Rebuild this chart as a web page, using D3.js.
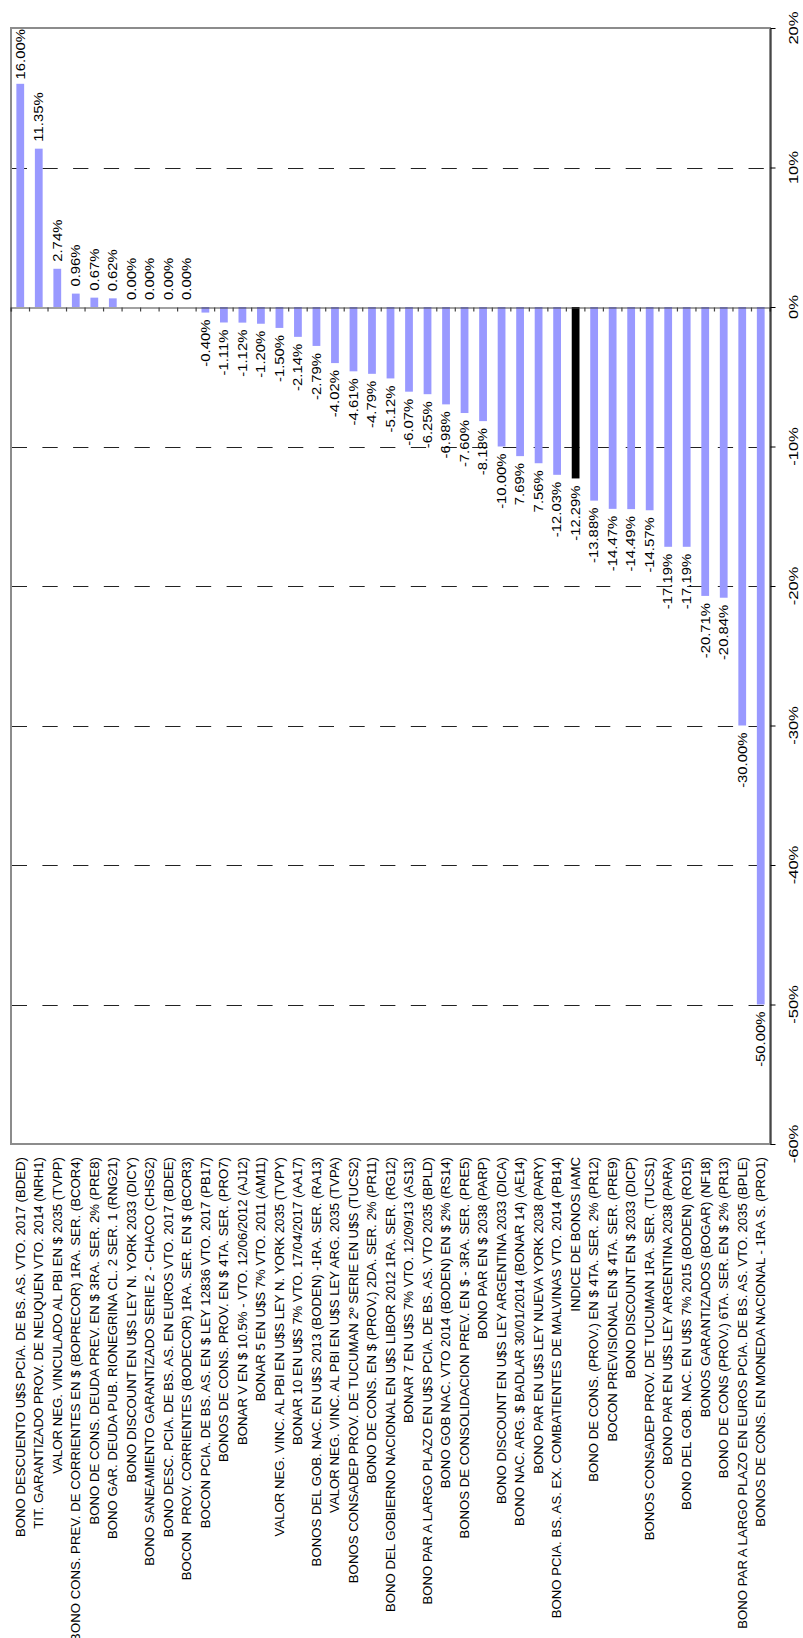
<!DOCTYPE html>
<html lang="es">
	<head>
		<meta charset="utf-8">
		<title>rendimiento bonos</title>
		<style>
			body {
				margin: 0;
				background-color: white;
			}
			svg text {
				font-family: "Liberation Sans", Arial, Helvetica, sans-serif;
				fill: black;
				white-space: pre;
			}
			.grid line {
				stroke: #222;
				stroke-width: 1px;
				stroke-dasharray: 15.3, 15.4;
			}
		</style>
	</head>
	<body>

		<script type="text/javascript" src="https://cdnjs.cloudflare.com/ajax/libs/d3/7.8.5/d3.min.js"></script>
		<script type="text/javascript">

			var categories = [
				"BONO DESCUENTO U$S PCIA. DE BS. AS. VTO. 2017 (BDED)",
				"TIT. GARANTIZADO PROV. DE NEUQUEN VTO. 2014 (NRH1)",
				"VALOR NEG. VINCULADO AL PBI EN $ 2035 (TVPP)",
				"BONO CONS. PREV. DE CORRIENTES EN $ (BOPRECOR) 1RA. SER. (BCOR4)",
				"BONO DE CONS. DEUDA PREV. EN $ 3RA. SER. 2% (PRE8)",
				"BONO GAR. DEUDA PUB. RIONEGRINA CL. 2 SER. 1 (RNG21)",
				"BONO DISCOUNT EN U$S LEY N. YORK 2033 (DICY)",
				"BONO SANEAMIENTO GARANTIZADO SERIE 2 - CHACO (CHSG2)",
				"BONO DESC. PCIA. DE BS. AS. EN EUROS VTO. 2017 (BDEE)",
				"BOCON  PROV. CORRIENTES (BODECOR) 1RA. SER. EN $ (BCOR3)",
				"BOCON PCIA. DE BS. AS. EN $ LEY 12836 VTO. 2017 (PB17)",
				"BONOS DE CONS. PROV. EN $ 4TA. SER. (PRO7)",
				"BONAR V EN $ 10.5% - VTO. 12/06/2012 (AJ12)",
				"BONAR 5 EN U$S 7% VTO. 2011 (AM11)",
				"VALOR NEG. VINC. AL PBI EN U$S LEY N. YORK 2035 (TVPY)",
				"BONAR 10 EN U$S 7% VTO. 17/04/2017 (AA17)",
				"BONOS DEL GOB. NAC. EN U$S 2013 (BODEN) -1RA. SER. (RA13)",
				"VALOR NEG. VINC. AL PBI EN U$S LEY ARG. 2035 (TVPA)",
				"BONOS CONSADEP PROV. DE TUCUMAN 2º SERIE EN U$S (TUCS2)",
				"BONO DE CONS. EN $ (PROV.) 2DA. SER. 2% (PR11)",
				"BONO DEL GOBIERNO NACIONAL EN U$S LIBOR 2012 1RA. SER. (RG12)",
				"BONAR 7 EN U$S 7% VTO. 12/09/13 (AS13)",
				"BONO PAR A LARGO PLAZO EN U$S PCIA. DE BS. AS. VTO 2035 (BPLD)",
				"BONO GOB NAC. VTO 2014 (BODEN) EN $ 2% (RS14)",
				"BONOS DE CONSOLIDACION PREV. EN $ - 3RA. SER. (PRE5)",
				"BONO PAR EN $ 2038 (PARP)",
				"BONO DISCOUNT EN U$S LEY ARGENTINA 2033 (DICA)",
				"BONO NAC. ARG. $ BADLAR 30/01/2014 (BONAR 14) (AE14)",
				"BONO PAR EN U$S LEY NUEVA YORK 2038 (PARY)",
				"BONO PCIA. BS. AS. EX. COMBATIENTES DE MALVINAS VTO. 2014 (PB14)",
				"INDICE DE BONOS IAMC",
				"BONO DE CONS. (PROV.) EN $ 4TA. SER. 2% (PR12)",
				"BOCON PREVISIONAL EN $ 4TA. SER. (PRE9)",
				"BONO DISCOUNT EN $ 2033 (DICP)",
				"BONOS CONSADEP PROV. DE TUCUMAN 1RA. SER. (TUCS1)",
				"BONO PAR EN U$S LEY ARGENTINA 2038 (PARA)",
				"BONO DEL GOB. NAC. EN U$S 7% 2015 (BODEN) (RO15)",
				"BONOS GARANTIZADOS (BOGAR) (NF18)",
				"BONO DE CONS (PROV.) 6TA. SER. EN $ 2% (PR13)",
				"BONO PAR A LARGO PLAZO EN EUROS PCIA. DE BS. AS. VTO. 2035 (BPLE)",
				"BONOS DE CONS. EN MONEDA NACIONAL - 1RA S. (PRO1)"
			];

			var values = [16.00, 11.35, 2.74, 0.96, 0.67, 0.62, 0, 0, 0, 0,
				-0.40, -1.11, -1.12, -1.20, -1.50, -2.14, -2.79, -4.02, -4.61, -4.79,
				-5.12, -6.07, -6.25, -6.98, -7.60, -8.18, -10.00, -10.69, -11.20, -12.03,
				-12.29, -13.88, -14.47, -14.49, -14.57, -17.19, -17.19, -20.71, -20.84, -30.00,
				-50.00];

			// labels as printed on the chart (two of them do not match their bars)
			var valueLabels = ["16.00%", "11.35%", "2.74%", "0.96%", "0.67%", "0.62%", "0.00%", "0.00%", "0.00%", "0.00%",
				"-0.40%", "-1.11%", "-1.12%", "-1.20%", "-1.50%", "-2.14%", "-2.79%", "-4.02%", "-4.61%", "-4.79%",
				"-5.12%", "-6.07%", "-6.25%", "-6.98%", "-7.60%", "-8.18%", "-10.00%", "7.69%", "7.56%", "-12.03%",
				"-12.29%", "-13.88%", "-14.47%", "-14.49%", "-14.57%", "-17.19%", "-17.19%", "-20.71%", "-20.84%", "-30.00%",
				"-50.00%"];

			var highlight = "INDICE DE BONOS IAMC";

			var yTicks = [20, 10, 0, -10, -20, -30, -40, -50, -60];
			var gridTicks = [10, -10, -20, -30, -40, -50];

			var fullwidth = 803;
			var fullheight = 1638;
			var plot = { left: 11, right: 770, top: 28, bottom: 1144 };
			var stretch = 1.24;
			var catStretch = 1.1;

			var data = categories.map(function(c, i) {
				return { name: c, value: values[i], label: valueLabels[i] };
			});

			var xScale = d3.scaleBand()
				.domain(categories)
				.range([plot.left, plot.right])
				.paddingInner(0.58)
				.paddingOuter(0.29);

			var yScale = d3.scaleLinear()
				.domain([20, -60])
				.range([plot.top, plot.bottom]);

			var svg = d3.select("body")
				.append("svg")
				.attr("width", fullwidth)
				.attr("height", fullheight);

			svg.append("rect")
				.attr("width", fullwidth)
				.attr("height", fullheight)
				.attr("fill", "white");

			// dashed grid
			svg.append("g")
				.attr("class", "grid")
				.selectAll("line")
				.data(gridTicks)
				.enter()
				.append("line")
				.attr("x1", plot.left + 0.7)
				.attr("x2", plot.right)
				.attr("y1", function(d) { return Math.round(yScale(d)) + 0.5; })
				.attr("y2", function(d) { return Math.round(yScale(d)) + 0.5; });

			// bars
			svg.append("g")
				.selectAll("rect")
				.data(data)
				.enter()
				.append("rect")
				.attr("x", function(d) { return xScale(d.name); })
				.attr("width", xScale.bandwidth())
				.attr("y", function(d) { return yScale(Math.max(0, d.value)); })
				.attr("height", function(d) { return Math.abs(yScale(d.value) - yScale(0)); })
				.attr("fill", function(d) {
					if (d.name == highlight) { return "#000000"; }
					else { return "#9999ff"; }
				});

			// frame
			svg.append("rect")
				.attr("x", plot.left)
				.attr("y", plot.top)
				.attr("width", plot.right - plot.left)
				.attr("height", plot.bottom - plot.top)
				.attr("fill", "none")
				.attr("stroke", "#8c8c8c")
				.attr("stroke-width", 2);

			// category axis along the zero line
			var xAxis = d3.axisBottom(xScale)
				.tickSize(4)
				.tickSizeOuter(4)
				.tickFormat("");

			var xAxisG = svg.append("g")
				.attr("class", "x axis")
				.attr("transform", "translate(0," + (Math.round(yScale(0)) + 0.5) + ")")
				.call(xAxis);

			// ticks between the bands, not at their centres
			xAxisG.selectAll(".tick line")
				.attr("transform", "translate(" + (-xScale.step() / 2) + ",0)");
			xAxisG.append("line")
				.attr("x1", plot.right).attr("x2", plot.right)
				.attr("y1", 0).attr("y2", 4);
			xAxisG.selectAll("line, path").attr("stroke", "#444").attr("stroke-width", 1.2);

			// value axis on the right
			var yAxis = d3.axisRight(yScale)
				.tickValues(yTicks)
				.tickSize(5)
				.tickSizeOuter(0)
				.tickFormat("");

			var yAxisG = svg.append("g")
				.attr("class", "y axis")
				.attr("transform", "translate(" + (plot.right + 0.5) + ",0)")
				.call(yAxis);
			yAxisG.selectAll("line, path").attr("stroke", "black").attr("stroke-width", 1);

			svg.append("g")
				.selectAll("text")
				.data(yTicks)
				.enter()
				.append("text")
				.attr("transform", function(d) {
					return "translate(798," + yScale(d) + ") rotate(-90) scale(1.33,1)";
				})
				.style("text-anchor", "middle")
				.style("font-size", "12.5px")
				.text(function(d) { return d + "%"; });

			// category names under the plot
			svg.append("g")
				.selectAll("text")
				.data(data)
				.enter()
				.append("text")
				.attr("transform", function(d) {
					var cx = xScale(d.name) + xScale.bandwidth() / 2 + 4.3;
					return "translate(" + cx + "," + (plot.bottom + 13) + ") rotate(-90) scale(" + catStretch + ",1)";
				})
				.style("text-anchor", "end")
				.style("font-size", "12px")
				.text(function(d) { return d.name; });

			// value labels
			var labels = svg.append("g")
				.selectAll("text")
				.data(data)
				.enter()
				.append("text")
				.style("font-size", "12px")
				.style("text-anchor", function(d) {
					return d.value >= 0 ? "start" : "end";
				})
				.text(function(d) { return d.label; });

			labels.attr("transform", function(d) {
				var cx = xScale(d.name) + xScale.bandwidth() / 2 + 4.3;
				var y;
				if (d.value >= 0) {
					y = yScale(d.value) - 7;
					var len = this.getComputedTextLength() * stretch;
					if (y - len < plot.top + 1) { y = plot.top + 1 + len; }
				} else {
					y = yScale(d.value) + 7;
				}
				return "translate(" + cx + "," + y + ") rotate(-90) scale(" + stretch + ",1)";
			});

		</script>

	</body>
</html>
